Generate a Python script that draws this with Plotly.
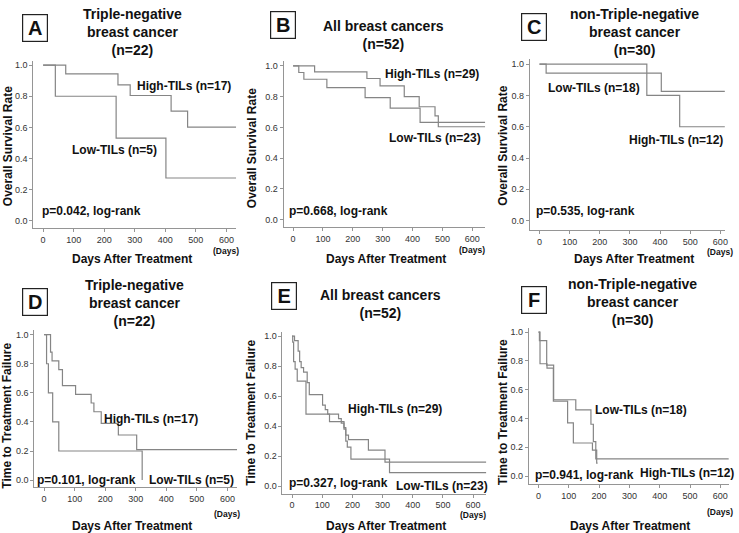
import plotly.graph_objects as go

W, H = 739, 533

# ---------------- data ----------------
x_ticks = [0, 100, 200, 300, 400, 500, 600]
x_ticktext = ["0", "100", "200", "300", "400", "500", "600"]
y_ticks = [0.0, 0.2, 0.4, 0.6, 0.8, 1.0]
y_ticktext = ["0.0", "0.2", "0.4", "0.6", "0.8", "1.0"]

# Panel A: OS, triple-negative
A_high_t = [0, 74, 245, 285, 419, 473, 632]
A_high_s = [1.0, 0.944, 0.873, 0.805, 0.705, 0.602, 0.602]
A_low_t = [0, 40, 239, 402, 632]
A_low_s = [1.0, 0.80, 0.531, 0.274, 0.274]

# Panel B: OS, all
B_high_t = [0, 72, 247, 291, 372, 422, 475, 486, 643]
B_high_s = [1.0, 0.961, 0.918, 0.870, 0.800, 0.734, 0.675, 0.604, 0.604]
B_low_t = [0, 19, 36, 113, 241, 325, 425, 643]
B_low_s = [1.0, 0.957, 0.913, 0.859, 0.794, 0.725, 0.632, 0.632]

# Panel C: OS, non-triple-negative
C_low_t = [0, 22, 404, 615]
C_low_s = [1.0, 0.943, 0.826, 0.826]
C_high_t = [0, 356, 465, 615]
C_high_s = [1.0, 0.80, 0.60, 0.60]

# Panel D: TTF, triple-negative
D_high_t = [0, 21, 26, 48, 60, 103, 154, 163, 187, 243, 303, 632]
D_high_s = [1.0, 0.88, 0.82, 0.76, 0.65, 0.59, 0.53, 0.47, 0.39, 0.31, 0.21, 0.21]
D_low_t = [0, 8, 14, 28, 48, 321]
D_low_s = [1.0, 0.8, 0.6, 0.4, 0.2, 0.0]

# Panel E: TTF, all
E_high_t = [0, 8, 20, 25, 30, 38, 50, 57, 101, 110, 118, 154, 163, 172, 178, 187, 253, 308, 644]
E_high_s = [1.0, 0.97, 0.90, 0.83, 0.79, 0.76, 0.69, 0.61, 0.54, 0.51, 0.48, 0.45, 0.42, 0.38, 0.34, 0.31, 0.24, 0.16, 0.16]
E_low_t = [0, 2, 5, 10, 17, 46, 124, 172, 178, 183, 195, 323, 644]
E_low_s = [1.0, 0.96, 0.83, 0.78, 0.70, 0.48, 0.43, 0.39, 0.30, 0.26, 0.18, 0.09, 0.09]

# Panel F: TTF, non-triple-negative
F_low_t = [0, 3, 27, 50, 123, 173, 181, 189, 628]
F_low_s = [1.0, 0.94, 0.77, 0.53, 0.46, 0.36, 0.24, 0.12, 0.12]
F_high_t = [0, 5, 28, 49, 96, 115, 178, 192, 195]
F_high_s = [1.0, 0.78, 0.75, 0.52, 0.37, 0.23, 0.18, 0.09, 0.09]

titles = [
    "Triple-negative<br>breast cancer<br>(n=22)",
    "All breast cancers<br>(n=52)",
    "non-Triple-negative<br>breast cancer<br>(n=30)",
    "Triple-negative<br>breast cancer<br>(n=22)",
    "All breast cancers<br>(n=52)",
    "non-Triple-negative<br>breast cancer<br>(n=30)",
]
letters = ["A", "B", "C", "D", "E", "F"]
y_titles = ["Overall Survival Rate"] * 3 + ["Time to Treatment Failure"] * 3
p_texts = ["p=0.042, log-rank", "p=0.668, log-rank", "p=0.535, log-rank",
           "p=0.101, log-rank", "p=0.327, log-rank", "p=0.941, log-rank"]
high_labels = ["High-TILs (n=17)", "High-TILs (n=29)", "High-TILs (n=12)",
               "High-TILs (n=17)", "High-TILs (n=29)", "High-TILs (n=12)"]
low_labels = ["Low-TILs (n=5)", "Low-TILs (n=23)", "Low-TILs (n=18)",
              "Low-TILs (n=5)", "Low-TILs (n=23)", "Low-TILs (n=18)"]

curves = [
    [(A_high_t, A_high_s), (A_low_t, A_low_s)],
    [(B_high_t, B_high_s), (B_low_t, B_low_s)],
    [(C_high_t, C_high_s), (C_low_t, C_low_s)],
    [(D_high_t, D_high_s), (D_low_t, D_low_s)],
    [(E_high_t, E_high_s), (E_low_t, E_low_s)],
    [(F_high_t, F_high_s), (F_low_t, F_low_s)],
]

# ---------------- layout geometry (pixels) ----------------
geom = [
    dict(X0=43.3, kx=0.3067, Y0=220.0, ky=155.7, xmax=632, ymin=-0.05),
    dict(X0=294.3, kx=0.3000, Y0=219.0, ky=154.0, xmax=643, ymin=-0.05),
    dict(X0=541.7, kx=0.3027, Y0=220.0, ky=156.7, xmax=615, ymin=-0.06),
    dict(X0=44.3, kx=0.3067, Y0=480.0, ky=145.7, xmax=632, ymin=-0.05),
    dict(X0=293.3, kx=0.3028, Y0=486.0, ky=150.3, xmax=644, ymin=-0.05),
    dict(X0=540.7, kx=0.3043, Y0=476.0, ky=144.3, xmax=628, ymin=-0.055),
]
XMIN = -32
YMAX = 1.03

letter_pos = [(35, 27.5), (284.5, 24.5), (536.5, 26.5), (35, 302), (285, 295.5), (536.5, 300)]
title_pos = [(133, 31.5), (385, 34), (637, 31), (135, 302.5), (382, 303.5), (635, 302)]
ytitle_pos = [(7.5, 145), (252.5, 147), (505, 145), (7.5, 415), (252.5, 412), (505, 412)]
xtitle_pos = [(133, 258.5), (388, 258), (637, 258.5), (133, 526), (388, 526), (633, 526)]
days_y = [250, 249, 251, 514, 515, 512]
high_pos = [(184.3, 85), (433.3, 73.3), (678.3, 139.3), (151.7, 419), (396.7, 409), (689.3, 473.3)]
low_pos = [(115, 149.3), (436.7, 137.3), (596, 86.7), (192.7, 480), (443.3, 485.7), (643.3, 409.3)]
p_pos = [(91.7, 210), (340, 210.7), (588.3, 210), (86.7, 480), (340, 483.3), (586.7, 475)]

FONT = "Liberation Sans, Arial, sans-serif"
LINE_COLOR = "#858585"
AXIS_COLOR = "#959595"
TEXT = "#111111"


def px(x):
    return x / W


def py(y):
    return 1 - y / H


fig = go.Figure()
layout_axes = {}
annotations = []

for i in range(6):
    g = geom[i]
    n = "" if i == 0 else str(i + 1)
    xa, ya = "x" + n, "y" + n
    for (t, s) in curves[i]:
        fig.add_trace(go.Scatter(
            x=t, y=s, mode="lines", xaxis=xa, yaxis=ya,
            line=dict(shape="hv", color=LINE_COLOR, width=1.2),
            showlegend=False, hoverinfo="skip"))
    xl = g["X0"] + g["kx"] * XMIN
    xr = g["X0"] + g["kx"] * g["xmax"]
    yb = g["Y0"] - g["ky"] * g["ymin"]
    yt = g["Y0"] - g["ky"] * YMAX
    layout_axes["xaxis" + n] = dict(
        domain=[px(xl), px(xr)], range=[XMIN, g["xmax"]], anchor=ya,
        showline=True, linecolor=AXIS_COLOR, linewidth=1, ticks="outside",
        ticklen=3, tickcolor=AXIS_COLOR, tickvals=x_ticks, ticktext=x_ticktext,
        tickfont=dict(family=FONT, size=9, color="#333"), showgrid=False,
        zeroline=False, fixedrange=True)
    layout_axes["yaxis" + n] = dict(
        domain=[py(yb), py(yt)], range=[g["ymin"], YMAX], anchor=xa,
        showline=True, linecolor=AXIS_COLOR, linewidth=1, ticks="outside",
        ticklen=3, tickcolor=AXIS_COLOR, tickvals=y_ticks, ticktext=y_ticktext,
        tickfont=dict(family=FONT, size=9, color="#333"), showgrid=False,
        zeroline=False, fixedrange=True)

    def ann(text, pos, size=12, **kw):
        d = dict(text=text, x=px(pos[0]), y=py(pos[1]), xref="paper", yref="paper",
                 xanchor="center", yanchor="middle", showarrow=False,
                 font=dict(family=FONT, size=size, color=TEXT))
        d.update(kw)
        annotations.append(d)

    ann("<b>%s</b>" % letters[i], letter_pos[i], size=20, bordercolor="#222",
        borderwidth=1.2, borderpad=1, width=22, height=24, bgcolor="white")
    ann("<b>%s</b>" % titles[i], title_pos[i], size=14)
    ann("<b>%s</b>" % y_titles[i], ytitle_pos[i], size=12, textangle=-90)
    ann("<b>Days After Treatment</b>", xtitle_pos[i], size=12)
    ann("<b>(Days)</b>", (g["X0"] + g["kx"] * 600, days_y[i]), size=8.5)
    ann("<b>%s</b>" % high_labels[i], high_pos[i], size=12)
    ann("<b>%s</b>" % low_labels[i], low_pos[i], size=12)
    ann("<b>%s</b>" % p_texts[i], p_pos[i], size=12)

fig.update_layout(
    width=W, height=H, margin=dict(l=0, r=0, t=0, b=0),
    paper_bgcolor="white", plot_bgcolor="white",
    annotations=annotations, showlegend=False, **layout_axes)

fig.write_html("out.html", config={"displayModeBar": False},
               post_script="document.body.style.margin='0';document.body.style.padding='0';")
